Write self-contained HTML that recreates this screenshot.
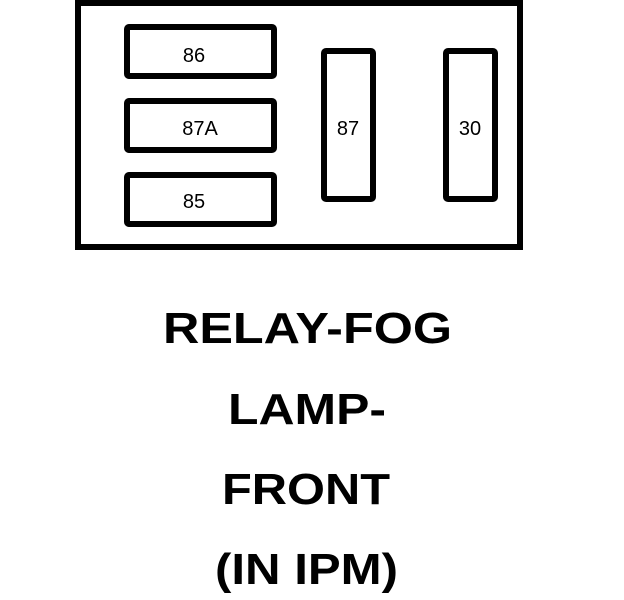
<!DOCTYPE html>
<html><head><meta charset="utf-8"><style>
html,body{margin:0;padding:0;background:#fff;}
svg{display:block}
</style></head><body>
<svg width="624" height="600" viewBox="0 0 624 600" xmlns="http://www.w3.org/2000/svg">
<rect x="78" y="3" width="442" height="244" fill="none" stroke="#000" stroke-width="6"/>
<g fill="none" stroke="#000" stroke-width="6">
<rect x="127" y="27" width="147" height="49" rx="2"/>
<rect x="127" y="101" width="147" height="49" rx="2"/>
<rect x="127" y="175" width="147" height="49" rx="2"/>
<rect x="324" y="51" width="49" height="148" rx="2"/>
<rect x="446" y="51" width="49" height="148" rx="2"/>
</g>
<g font-family="Liberation Sans, Arial, sans-serif" font-size="20" fill="#000" text-anchor="middle">
<text x="194" y="62">86</text>
<text x="200" y="135">87A</text>
<text x="194" y="208">85</text>
<text x="348" y="135">87</text>
<text x="470" y="135">30</text>
</g>
<g font-family="Liberation Sans, Arial, sans-serif" font-weight="bold" font-size="44" fill="#000">
<text x="163" y="343" textLength="289" lengthAdjust="spacingAndGlyphs">RELAY-FOG</text>
<text x="228" y="424" textLength="158" lengthAdjust="spacingAndGlyphs">LAMP-</text>
<text x="222" y="504" textLength="168" lengthAdjust="spacingAndGlyphs">FRONT</text>
<text x="215" y="584" textLength="183" lengthAdjust="spacingAndGlyphs">(IN IPM)</text>
</g>
</svg>
</body></html>
